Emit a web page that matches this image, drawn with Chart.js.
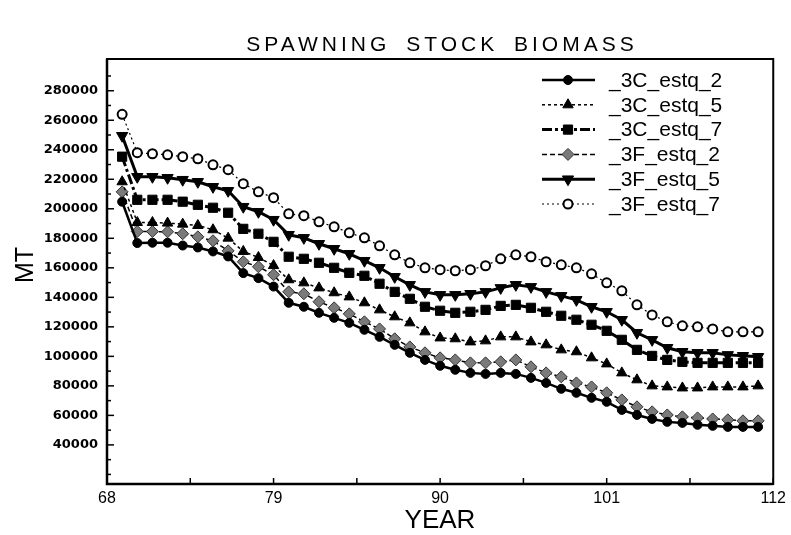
<!DOCTYPE html>
<html>
<head>
<meta charset="utf-8">
<script src="https://cdn.jsdelivr.net/npm/chart.js"></script>
<style>
  body { margin: 0; background: #fff; }
  #wrap { width: 791px; height: 535px; }
</style>
</head>
<body>
<div id="wrap"><canvas id="ssb" width="791" height="535"></canvas></div>
<script>
// --- data ---
const years = [69, 70, 71, 72, 73, 74, 75, 76, 77, 78, 79, 80, 81, 82, 83, 84, 85, 86, 87, 88, 89,
  90, 91, 92, 93, 94, 95, 96, 97, 98, 99, 100, 101, 102, 103, 104, 105, 106, 107, 108, 109, 110, 111];
const xTicks = [68, 79, 90, 101, 112];
const xMinorTicks = [73.5, 84.5, 95.5, 106.5];
const yTicks = [40000, 60000, 80000, 100000, 120000, 140000, 160000, 180000, 200000, 220000, 240000, 260000, 280000];
const yMinorTicks = [20000, 30000, 50000, 70000, 90000, 110000, 130000, 150000, 170000, 190000, 210000, 230000, 250000, 270000, 290000];

const s3C2 = [204800, 176800, 177000, 177000, 175100, 173800, 171100, 167700, 156400, 153000, 147300,
  136300, 133600, 129500, 126100, 122700, 118000, 113200, 107800, 102400, 97600,
  93600, 90900, 88800, 88100, 88800, 88100, 85400, 82000, 78000, 75300,
  71900, 69200, 63700, 60300, 57600, 55600, 54900, 53600, 52900, 52200, 52200, 52200];
const s3C5 = [218300, 190700, 190700, 190300, 189600, 188700, 185800, 180100, 171100, 167000, 161500,
  151900, 149800, 146400, 143100, 140300, 136300, 131500, 126800, 122700, 116600,
  112500, 111900, 109800, 110500, 113200, 113200, 109800, 107800, 104400, 103100,
  99000, 94900, 88800, 84100, 80000, 79300, 78600, 78600, 79300, 79300, 79300, 80000];
const s3C7 = [235300, 206100, 206100, 206100, 204800, 202700, 200700, 197300, 186400, 183100, 177600,
  167500, 166100, 163400, 160000, 156600, 154600, 149200, 143700, 139000, 133600,
  130900, 129500, 130200, 131500, 134200, 134900, 132900, 130200, 127500, 124800,
  121400, 117300, 111200, 104400, 100300, 97600, 96300, 95600, 95600, 95600, 95600, 95600];
const s3F2 = [211500, 184600, 184600, 184400, 183100, 181000, 178300, 171500, 164100, 160700, 155300,
  143700, 142400, 137000, 132900, 128800, 123400, 118600, 111900, 106400, 102400,
  99000, 97600, 95600, 95600, 96300, 97600, 92900, 88800, 86100, 82000,
  79300, 75300, 70500, 65800, 62400, 60300, 59000, 58300, 57600, 57000, 56300, 56300];
const s3F5 = [249500, 221700, 221700, 221000, 219700, 218300, 214900, 212200, 201400, 198000, 192600,
  182400, 180300, 176300, 172900, 169500, 164800, 160000, 153900, 148500, 143700,
  141700, 141700, 142400, 143700, 146400, 148500, 147100, 143700, 141000, 138300,
  133600, 130200, 124800, 116000, 111200, 105800, 103100, 102400, 102400, 101000, 100400, 99700];
const s3F7 = [264000, 238000, 237300, 236600, 235300, 233900, 229800, 226500, 217000, 211500, 207500,
  196600, 195300, 191200, 187800, 183700, 180300, 174900, 168800, 163400, 160000,
  158700, 158000, 158700, 161400, 166100, 168800, 167500, 164100, 162000, 160000,
  155900, 149800, 144400, 134900, 128100, 123400, 120700, 120000, 118600, 116600, 116600, 116600];

function pairs(vals) {
  return years.map((yr, i) => ({ x: yr, y: vals[i] }));
}

const datasets = [
  { label: '_3C_estq_2', data: pairs(s3C2), borderWidth: 2.5, borderDash: [],
    pointStyle: 'circle', pointRadius: 4.5, pointBackgroundColor: '#000', pointBorderColor: '#000', pointBorderWidth: 1 },
  { label: '_3C_estq_5', data: pairs(s3C5), borderWidth: 1.5, borderDash: [3, 3],
    pointStyle: 'triangle', pointRadius: 6, pointBackgroundColor: '#000', pointBorderColor: '#000', pointBorderWidth: 1 },
  { label: '_3C_estq_7', data: pairs(s3C7), borderWidth: 3, borderDash: [10, 3, 3, 3],
    pointStyle: 'rect', pointRadius: 6.5, pointBackgroundColor: '#000', pointBorderColor: '#000', pointBorderWidth: 1 },
  { label: '_3F_estq_2', data: pairs(s3F2), borderWidth: 1.5, borderDash: [5, 3],
    pointStyle: 'rectRot', pointRadius: 6, pointBackgroundColor: '#7a7a7a', pointBorderColor: '#333', pointBorderWidth: 1 },
  { label: '_3F_estq_5', data: pairs(s3F5), borderWidth: 3, borderDash: [],
    pointStyle: 'triangle', pointRotation: 180, pointRadius: 6.5, pointBackgroundColor: '#000', pointBorderColor: '#000', pointBorderWidth: 1 },
  { label: '_3F_estq_7', data: pairs(s3F7), borderWidth: 1.2, borderDash: [2, 3],
    pointStyle: 'circle', pointRadius: 4.5, pointBackgroundColor: '#fff', pointBorderColor: '#000', pointBorderWidth: 2 }
];
datasets.forEach(d => { d.borderColor = '#000'; d.tension = 0; d.fill = false; });

// frame, inward ticks, titles and legend
const decor = {
  id: 'decor',
  afterDraw(chart) {
    const { ctx, chartArea: a, scales: { x, y } } = chart;
    ctx.save();
    ctx.strokeStyle = '#000';
    ctx.setLineDash([]);

    // ticks
    ctx.lineWidth = 1.5;
    xTicks.concat(xMinorTicks).forEach(v => {
      const px = x.getPixelForValue(v);
      ctx.beginPath(); ctx.moveTo(px, a.bottom); ctx.lineTo(px, a.bottom - 6); ctx.stroke();
    });
    yTicks.forEach(v => {
      const py = y.getPixelForValue(v);
      ctx.beginPath(); ctx.moveTo(a.left, py); ctx.lineTo(a.left + 7, py); ctx.stroke();
    });
    yMinorTicks.forEach(v => {
      const py = y.getPixelForValue(v);
      ctx.beginPath(); ctx.moveTo(a.left, py); ctx.lineTo(a.left + 4, py); ctx.stroke();
    });

    // frame
    ctx.lineWidth = 2;
    ctx.strokeRect(a.left, a.top, a.right - a.left, a.bottom - a.top);
    ctx.lineWidth = 2.5;
    ctx.beginPath();
    ctx.moveTo(a.left, a.top); ctx.lineTo(a.left, a.bottom); ctx.lineTo(a.right, a.bottom);
    ctx.stroke();

    // title
    ctx.fillStyle = '#000';
    ctx.textAlign = 'center';
    ctx.textBaseline = 'middle';
    ctx.font = '21px "Liberation Sans", Arial, sans-serif';
    ctx.letterSpacing = '4px';
    ctx.wordSpacing = '6px';
    ctx.fillText('SPAWNING STOCK BIOMASS', 442, 45);
    ctx.letterSpacing = '0px';
    ctx.wordSpacing = '0px';

    // axis titles
    ctx.font = '26px "Liberation Sans", Arial, sans-serif';
    ctx.fillText('YEAR', 440, 521);
    ctx.save();
    ctx.translate(26, 265);
    ctx.rotate(-Math.PI / 2);
    ctx.font = '25px "Liberation Sans", Arial, sans-serif';
    ctx.fillText('MT', 0, 0);
    ctx.restore();

    // legend
    ctx.textAlign = 'left';
    ctx.font = '21px "Liberation Sans", Arial, sans-serif';
    chart.data.datasets.forEach((d, i) => {
      const ly = 80 + i * 24.8;
      ctx.strokeStyle = '#000';
      ctx.lineWidth = d.borderWidth;
      ctx.setLineDash(d.borderDash);
      ctx.beginPath(); ctx.moveTo(542, ly); ctx.lineTo(595, ly); ctx.stroke();
      ctx.setLineDash([]);
      ctx.fillStyle = d.pointBackgroundColor;
      ctx.strokeStyle = d.pointBorderColor;
      ctx.lineWidth = d.pointBorderWidth;
      Chart.helpers.drawPoint(ctx, {
        pointStyle: d.pointStyle, rotation: d.pointRotation || 0,
        radius: d.pointRadius, borderWidth: d.pointBorderWidth
      }, 568, ly);
      ctx.fillStyle = '#000';
      ctx.fillText(d.label, 609, ly + 1);
    });
    ctx.restore();
  }
};

new Chart(document.getElementById('ssb'), {
  type: 'line',
  data: { datasets: datasets },
  options: {
    responsive: false,
    animation: false,
    layout: { padding: { left: 0, right: 15, top: 59, bottom: 0 } },
    plugins: { legend: { display: false }, title: { display: false }, tooltip: { enabled: false } },
    scales: {
      x: {
        type: 'linear', min: 68, max: 112,
        grid: { display: false, drawTicks: false }, border: { display: false },
        afterBuildTicks: s => { s.ticks = xTicks.map(v => ({ value: v })); },
        afterFit: s => { s.height = 51; },
        ticks: { color: '#000', padding: 5, maxRotation: 0, font: { family: '"Liberation Sans", Arial', size: 16 } }
      },
      y: {
        type: 'linear', min: 13500, max: 301500,
        grid: { display: false, drawTicks: false }, border: { display: false },
        afterBuildTicks: s => { s.ticks = yTicks.map(v => ({ value: v })); },
        afterFit: s => { s.width = 107; },
        ticks: { color: '#000', padding: 9, font: { family: '"DejaVu Sans"', size: 13, weight: 'bold' },
          callback: v => String(v) }
      }
    }
  },
  plugins: [decor]
});
</script>
</body>
</html>
